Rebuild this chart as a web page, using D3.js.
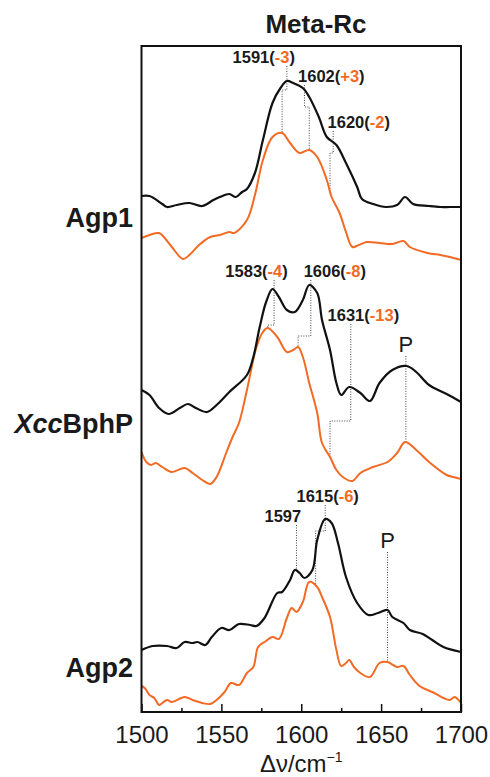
<!DOCTYPE html>
<html>
<head>
<meta charset="utf-8">
<script src="https://cdnjs.cloudflare.com/ajax/libs/d3/7.8.5/d3.min.js"></script>
<style>
    body { margin: 0; background: #fff; }
    svg text { font-family: "Liberation Sans", Arial, sans-serif; fill: #1a1a1a; }
</style>
</head>
<body>
<div id="chart"></div>
<script>
(function(){
    "use strict";

    // spectra as [wavenumber, intensity (a.u.)]
    var agp1Dark = [[1500,516],[1505,516],[1513,508],[1516,505],[1522,507],[1530,509],[1538,506],[1545,512],[1549,515],[1555,518],[1559,515],[1563,520],[1566,523],[1571,539],[1576,572],[1582,609],[1587,624],[1591,631],[1595,629],[1601,624],[1605,615],[1611,595],[1616,575],[1622,567],[1628,549],[1635,525],[1638,513],[1645,508],[1653,505],[1660,507],[1665,515],[1670,508],[1680,506],[1687,505],[1693,505],[1700,505]];
    var agp1Orange = [[1500,474],[1505,477],[1511,479],[1514,475],[1519,465],[1526,453],[1530,457],[1536,467],[1543,475],[1549,477],[1555,480],[1558,479],[1566,492],[1571,517],[1576,552],[1582,575],[1588,579],[1593,569],[1599,559],[1605,562],[1610,555],[1616,532],[1619,515],[1624,499],[1628,480],[1632,465],[1636,467],[1641,470],[1649,469],[1657,468],[1664,471],[1668,465],[1679,459],[1687,457],[1693,455],[1700,452]];

    var xccDark = [[1500,322],[1505,317],[1511,304],[1517,298],[1524,304],[1529,308],[1534,304],[1541,300],[1547,307],[1555,320],[1566,337],[1570,355],[1574,385],[1578,410],[1582,423],[1586,415],[1591,402],[1596,400],[1601,412],[1605,427],[1610,419],[1613,392],[1618,362],[1622,329],[1625,317],[1630,325],[1637,319],[1643,311],[1649,329],[1657,342],[1666,346],[1672,340],[1680,327],[1691,318],[1700,310]];
    var xccOrange = [[1500,260],[1503,250],[1506,247],[1509,249],[1513,245],[1519,240],[1527,244],[1532,239],[1538,232],[1543,228],[1547,235],[1553,259],[1557,275],[1561,289],[1566,322],[1572,365],[1576,380],[1579,384],[1585,375],[1591,360],[1595,362],[1598,365],[1601,355],[1605,329],[1610,299],[1613,269],[1618,255],[1622,242],[1626,235],[1632,231],[1637,239],[1645,245],[1654,250],[1660,259],[1665,270],[1672,262],[1680,250],[1691,237],[1695,235],[1700,233]];

    var agp2Dark = [[1500,62],[1507,66],[1516,66],[1522,64],[1527,70],[1532,69],[1535,70],[1540,67],[1544,75],[1550,84],[1555,82],[1561,88],[1568,87],[1572,86],[1577,94],[1585,119],[1588,120],[1593,132],[1596,142],[1599,139],[1602,134],[1607,142],[1610,172],[1615,193],[1619,189],[1623,169],[1628,135],[1635,109],[1642,97],[1648,99],[1654,102],[1657,95],[1664,89],[1668,82],[1676,78],[1682,72],[1689,65],[1700,60]];
    var agp2Orange = [[1500,26],[1502,24],[1505,17],[1508,14],[1511,7],[1513,9],[1516,12],[1519,10],[1527,15],[1532,12],[1538,9],[1543,8],[1547,12],[1552,20],[1556,29],[1561,27],[1566,39],[1570,45],[1573,65],[1577,70],[1582,75],[1586,73],[1591,94],[1594,104],[1597,100],[1601,110],[1605,130],[1610,125],[1613,115],[1618,95],[1622,62],[1625,46],[1628,49],[1630,52],[1633,45],[1637,39],[1643,35],[1649,49],[1654,50],[1660,45],[1664,46],[1668,37],[1674,26],[1682,20],[1689,14],[1693,12],[1696,15],[1700,9]];

    var sampleNames = [["Agp1"], ["Xcc", "BphP"], ["Agp2"]];
    var sampleLevels = [485, 279, 35];

    // band labels: dark peak, shift to orange, step level, label anchor (wavenumber, level)
    var agp1Bands = [
        {band:1591, shift:-3, step:622, textAt:1557, textLevel:649},
        {band:1602, shift:3, step:605, textAt:1598, textLevel:630},
        {band:1620, shift:-2, step:559, textAt:1616.5, textLevel:584}
    ];
    var xccBands = [
        {band:1583, shift:-4, step:387, textAt:1552.5, textLevel:435},
        {band:1606, shift:-8, step:376, textAt:1601.5, textLevel:435},
        {band:1631, shift:-13, step:291, textAt:1616.5, textLevel:391}
    ];
    var agp2Bands = [
        {band:1615, shift:-6, step:181, textAt:1597, textLevel:210},
        {band:1597, shift:null, step:null, textAt:1577, textLevel:190}
    ];
    // protein marker "P": wavenumber, label level
    var pMarks = [
        {sample:1, at:1665.5, level:360},
        {sample:2, at:1654, level:164}
    ];

    var majorTicks = [1500, 1550, 1600, 1650, 1700];
    var minorTicks = [1525, 1575, 1625, 1675];

    var darkColor = "#111111", orangeColor = "#f26a24";

    var width = 490, height = 777;
    var box = {left: 141.5, right: 461, top: 46, bottom: 712};

    var x = d3.scaleLinear().domain([1500, 1700]).range([box.left, box.right]);
    var y = d3.scaleLinear().domain([0, 666]).range([box.bottom, box.top]);

    var svg = d3.select("#chart").append("svg")
        .attr("width", width)
        .attr("height", height);

    var line = d3.line()
        .x(function(d) { return x(d[0]); })
        .y(function(d) { return y(d[1]); })
        .curve(d3.curveCatmullRom.alpha(0.5));

    // value of a spectrum at a wavenumber (linear between points)
    function valueAt(series, wn) {
        for (var i = 1; i < series.length; i++) {
            if (series[i][0] >= wn) {
                var a = series[i-1], b = series[i];
                var t = (wn - a[0]) / (b[0] - a[0]);
                return a[1] + t * (b[1] - a[1]);
            }
        }
        return series[series.length-1][1];
    }

    var spectra = [
        {dark: agp1Dark, orange: agp1Orange, bands: agp1Bands},
        {dark: xccDark, orange: xccOrange, bands: xccBands},
        {dark: agp2Dark, orange: agp2Orange, bands: agp2Bands}
    ];

    /*********************
     * dotted guide lines
     * ******************/
    var guides = svg.append("g")
        .attr("fill", "none")
        .attr("stroke", "#444")
        .attr("stroke-width", 1)
        .attr("stroke-dasharray", "1,1.5");

    spectra.forEach(function(s) {
        s.bands.forEach(function(b) {
            var top = y(b.textLevel) + 3;
            var xb = x(b.band);
            var p;
            if (b.shift === null) {
                p = "M" + xb + "," + top + "V" + y(valueAt(s.dark, b.band));
            } else {
                var xo = x(b.band + b.shift);
                p = "M" + xb + "," + top + "V" + y(b.step) + "H" + xo + "V" + y(valueAt(s.orange, b.band + b.shift));
            }
            guides.append("path").attr("d", p);
        });
    });

    pMarks.forEach(function(m) {
        var s = spectra[m.sample];
        guides.append("path")
            .attr("d", "M" + x(m.at) + "," + (y(m.level) + 4) + "V" + y(valueAt(s.orange, m.at)));
    });

    // spectra
    spectra.forEach(function(s) {
        svg.append("path")
            .datum(s.orange)
            .attr("fill", "none")
            .attr("stroke", orangeColor)
            .attr("stroke-width", 2)
            .attr("d", line);
        svg.append("path")
            .datum(s.dark)
            .attr("fill", "none")
            .attr("stroke", darkColor)
            .attr("stroke-width", 2.2)
            .attr("d", line);
    });

    // band labels like 1591(-3)
    spectra.forEach(function(s) {
        s.bands.forEach(function(b) {
            var t = svg.append("text")
                .attr("x", x(b.textAt))
                .attr("y", y(b.textLevel))
                .attr("font-size", 16.5)
                .attr("font-weight", "bold");
            t.append("tspan").text(b.band);
            if (b.shift !== null) {
                t.append("tspan").text("(");
                t.append("tspan").style("fill", orangeColor)
                    .text((b.shift > 0 ? "+" : "-") + Math.abs(b.shift));
                t.append("tspan").text(")");
            }
        });
    });

    pMarks.forEach(function(m) {
        svg.append("text")
            .attr("x", x(m.at))
            .attr("y", y(m.level))
            .attr("text-anchor", "middle")
            .attr("font-size", 22)
            .text("P");
    });

    // frame
    svg.append("rect")
        .attr("x", box.left)
        .attr("y", box.top)
        .attr("width", box.right - box.left)
        .attr("height", box.bottom - box.top)
        .attr("fill", "none")
        .attr("stroke", "#111")
        .attr("stroke-width", 2);

    // add the x Axis (ticks pointing inward)
    var xAxis = svg.append("g")
        .attr("transform", "translate(0," + box.bottom + ")")
        .call(d3.axisBottom(x).tickValues(majorTicks).tickSize(-8).tickPadding(14).tickFormat(d3.format("d")));
    xAxis.select(".domain").remove();
    xAxis.selectAll(".tick line").attr("stroke", "#111").attr("stroke-width", 1.5);
    xAxis.selectAll(".tick text").attr("font-size", 24).attr("font-family", null);

    var xMinor = svg.append("g")
        .attr("transform", "translate(0," + box.bottom + ")")
        .call(d3.axisBottom(x).tickValues(minorTicks).tickSize(-4).tickFormat(""));
    xMinor.select(".domain").remove();
    xMinor.selectAll(".tick line").attr("stroke", "#111").attr("stroke-width", 1.5);

    // axis title
    var xt = svg.append("text")
        .attr("x", (box.left + box.right) / 2)
        .attr("y", 772)
        .attr("text-anchor", "middle")
        .attr("font-size", 24);
    xt.append("tspan").text("\u0394\u03bd/cm");
    xt.append("tspan").attr("font-size", 14).attr("dy", -10).text("\u22121");

    // title
    svg.append("text")
        .attr("x", 316)
        .attr("y", 33)
        .attr("text-anchor", "middle")
        .attr("font-size", 26)
        .attr("font-weight", "bold")
        .text("Meta-Rc");

    // sample names
    sampleNames.forEach(function(parts, i) {
        var t = svg.append("text")
            .attr("x", 133)
            .attr("y", y(sampleLevels[i]))
            .attr("text-anchor", "end")
            .attr("font-size", 27)
            .attr("font-weight", "bold");
        if (parts.length > 1) {
            t.append("tspan").attr("font-style", "italic").text(parts[0]);
            t.append("tspan").text(parts[1]);
        } else {
            t.text(parts[0]);
        }
    });

})();
</script>
</body>
</html>
